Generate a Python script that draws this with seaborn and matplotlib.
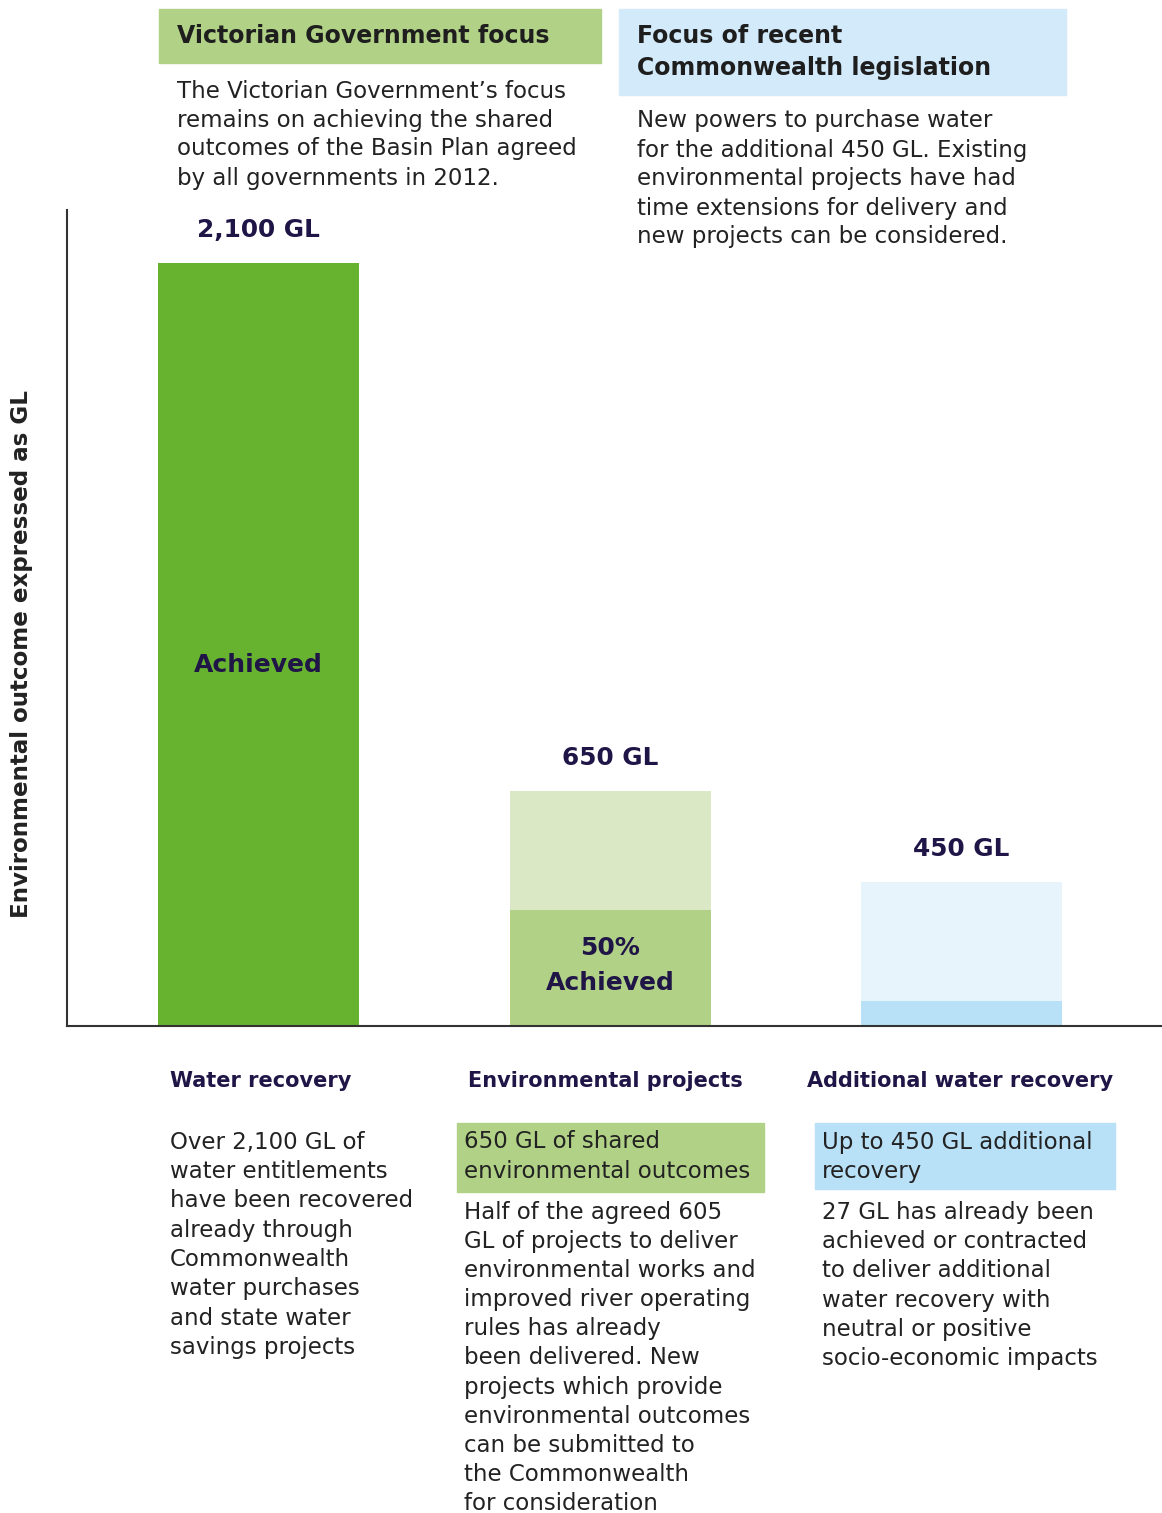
import matplotlib
matplotlib.use("Agg")
import matplotlib.pyplot as plt
import matplotlib.patches as mpatches
import seaborn as sns
import pandas as pd

# data (bar heights in GL on the drawn scale)
categories = ["Water recovery", "Environmental projects", "Additional water recovery"]
total_height = [2100, 647, 396]
achieved_height = [2100, 319, 69]
value_labels = ["2,100 GL", "650 GL", "450 GL"]

total_colors = ["#67b330", "#dae8c5", "#e8f4fc"]
achieved_colors = ["#67b330", "#b1d286", "#b8e0f6"]

W, H = 1162, 1513
NAVY = "#201547"
BODY = "#222222"

sns.set_theme(style="white")
plt.rcParams["font.family"] = ["DejaVu Sans"]

fig = plt.figure(figsize=(W / 100, H / 100), dpi=100)


def fx(px):
    return px / W


def fy(py):
    return 1 - py / H


# chart axes: left spine at x=67, baseline at y=1026, top at y=210
ax = fig.add_axes([fx(67), fy(1026), 1 - fx(67), (1026 - 210) / H])
df = pd.DataFrame({"cat": categories, "total": total_height, "ach": achieved_height})
sns.barplot(data=df, x="cat", y="total", hue="cat", palette=total_colors,
            width=0.572, legend=False, ax=ax, saturation=1, linewidth=0)
sns.barplot(data=df, x="cat", y="ach", hue="cat", palette=achieved_colors,
            width=0.572, legend=False, ax=ax, saturation=1, linewidth=0)
ax.set_xlim(-0.545, 2.570)
ax.set_ylim(0, 2100 * 816 / 763)
ax.set_xticks([])
ax.set_yticks([])
ax.set_xlabel("")
ax.set_ylabel("")
for s in ["top", "right"]:
    ax.spines[s].set_visible(False)
for s in ["left", "bottom"]:
    ax.spines[s].set_color("#333333")
    ax.spines[s].set_linewidth(1.5)

for i, lab in enumerate(value_labels):
    ax.annotate(lab, (i, total_height[i]), xytext=(0, 33), textcoords="offset pixels",
                ha="center", va="center", fontsize=17.8, fontweight="bold", color=NAVY)

# y label
fig.text(fx(22), fy(654), "Environmental outcome expressed as GL", rotation=90,
         ha="center", va="center", fontsize=16.6, fontweight="bold", color=BODY)


def box(x0, y0, x1, y1, color):
    fig.patches.append(mpatches.Rectangle((fx(x0), fy(y1)), fx(x1 - x0), (y1 - y0) / H,
                                          transform=fig.transFigure, color=color, zorder=0))


def lines(x, y0, step, txt, size=16.5, weight="normal", color=BODY, ha="left"):
    for k, t in enumerate(txt):
        fig.text(fx(x), fy(y0 + k * step), t, ha=ha, va="center",
                 fontsize=size, fontweight=weight, color=color)


# labels inside bars
lines(258, 665, 0, ["Achieved"], size=18, weight="bold", color=NAVY, ha="center")
lines(610, 948, 35, ["50%", "Achieved"], size=18, weight="bold", color=NAVY, ha="center")

# top header boxes
box(159, 9, 601, 63, "#b1d286")
box(619, 9, 1066, 95, "#d2eaf9")
lines(177, 36, 32, ["Victorian Government focus"], size=17, weight="bold", color="#1e1e1e")
lines(637, 36, 32, ["Focus of recent", "Commonwealth legislation"], size=17, weight="bold",
      color="#1e1e1e")
lines(177, 91, 29, ["The Victorian Government\u2019s focus",
                    "remains on achieving the shared",
                    "outcomes of the Basin Plan agreed",
                    "by all governments in 2012."])
lines(637, 121, 29, ["New powers to purchase water",
                     "for the additional 450 GL. Existing",
                     "environmental projects have had",
                     "time extensions for delivery and",
                     "new projects can be considered."])

# category titles
for x, c in zip([170, 468, 807], categories):
    lines(x, 1081, 0, [c], size=15, weight="bold", color=NAVY)

# lower boxes
box(457, 1123, 764, 1192, "#b1d286")
box(815, 1123, 1115, 1189, "#b8e0f6")

lines(170, 1142, 29.4, ["Over 2,100 GL of", "water entitlements", "have been recovered",
                        "already through", "Commonwealth", "water purchases",
                        "and state water", "savings projects"])
lines(464, 1142, 29.4, ["650 GL of shared", "environmental outcomes"])
lines(464, 1212, 29.2, ["Half of the agreed 605", "GL of projects to deliver",
                        "environmental works and", "improved river operating",
                        "rules has already", "been delivered. New",
                        "projects which provide", "environmental outcomes",
                        "can be submitted to", "the Commonwealth", "for consideration"])
lines(822, 1142, 29.4, ["Up to 450 GL additional", "recovery"])
lines(822, 1212, 29.4, ["27 GL has already been", "achieved or contracted",
                        "to deliver additional", "water recovery with",
                        "neutral or positive", "socio-economic impacts"])

fig.savefig("out.png", dpi=100)
